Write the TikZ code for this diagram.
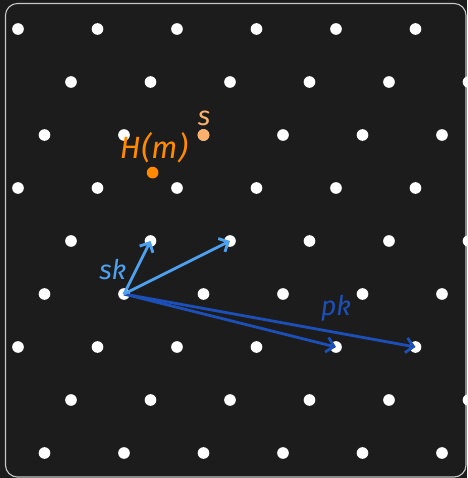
\documentclass[tikz,border=0pt]{standalone}
\usepackage{fontspec}
\setsansfont{Fira Sans}
\usepackage{tikz}
\usetikzlibrary{arrows.meta}

\definecolor{bgdark}{HTML}{1C1C1C}
\definecolor{framegray}{HTML}{C8C8C8}
\definecolor{sorange}{HTML}{FBB06C}
\definecolor{horange}{HTML}{FF8A00}
\definecolor{skblue}{HTML}{4EA1EE}
\definecolor{pkblue}{HTML}{1C4FB8}

\begin{document}
\begin{tikzpicture}[x=0.5cm, y=0.5cm,
  vec/.style={line width=1.5pt, -{Straight Barb[length=4pt,width=8pt]}},
  lbl/.style={font=\sffamily\itshape\fontsize{14.5}{16}\selectfont}]

% ---- background and frame --------------------------------------------------
\fill[bgdark] (-4.679,-6.943) rectangle (12.943,11.094);
\clip (-4.679,-6.943) rectangle (12.943,11.094);
\draw[framegray,line width=0.6pt,rounded corners=6.4pt]
  (-4.472,-6.906) rectangle (12.906,10.962);

% ---- lattice points --------------------------------------------------------
\foreach \j in {-3,...,5}
  \foreach \i in {-4,...,5}
    \fill[white] ({3*\i+\j},{2*\j}) circle[radius=0.22];

% ---- special points --------------------------------------------------------
\coordinate (o)   at (0,0);
\coordinate (sk1) at (1,2);
\coordinate (sk2) at (4,2);
\coordinate (pk1) at (8,-2);
\coordinate (pk2) at (11,-2);
\coordinate (s)   at (3,6);
\coordinate (hm)  at (1.08,4.58);

\fill[sorange] (s)  circle[radius=0.22];
\fill[horange] (hm) circle[radius=0.22];

% ---- secret and public bases -----------------------------------------------
\draw[vec,pkblue] (o) -- (pk1);
\draw[vec,pkblue] (o) -- (pk2);
\draw[vec,skblue] (o) -- (sk1);
\draw[vec,skblue] (o) -- (sk2);

% ---- labels ----------------------------------------------------------------
\node[lbl,sorange] (slbl)  at (3.02,6.64)  {s};
\node[lbl,horange,font=\sffamily\itshape\fontsize{16.5}{18}\selectfont]
  (hmlbl) at (1.13,5.51) {H\kern0.5pt(m\kern0.5pt)};
\node[lbl,skblue]  (sklbl) at (-0.42,0.91) {sk};
\node[lbl,pkblue]  (pklbl) at (8.0,-0.53)  {pk};

\end{tikzpicture}
\end{document}
